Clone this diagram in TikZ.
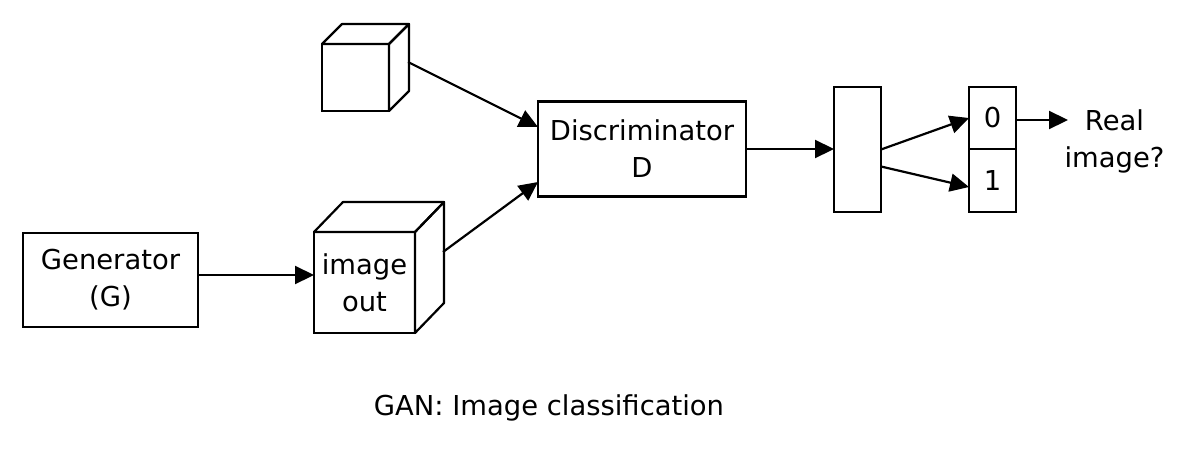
\documentclass[tikz,border=0pt]{standalone}
\usepackage{fontspec}
\setmainfont{DejaVu Sans}
\usetikzlibrary{arrows.meta,calc}
\begin{document}
\begin{tikzpicture}[x=0.5pt,y=-0.5pt,
  every node/.style={font=\fontsize{13.7}{18.5}\selectfont},
  box/.style={draw,line width=1.1pt,rectangle,align=center,inner sep=0pt,outer sep=0pt},
  face/.style={draw,line width=1.1pt,line join=round},
  arr/.style={line width=1.1pt,-{Triangle[length=9.5pt,width=9pt]}}]
\useasboundingbox (0,0) rectangle (1189,450);
% generator
\node[box,minimum width=87.5pt,minimum height=47pt] (G) at (110.5,280) {Generator\\(G)};
% small cube
\node[box,minimum width=33.5pt,minimum height=33.5pt] (C1) at (355.5,77.5) {};
\draw[face] (C1.north west) -- ++(20,-20) -- ++(67,0) -- (C1.north east) -- cycle;
\draw[face] (C1.north east) -- ++(20,-20) -- ++(0,67) -- (C1.south east) -- cycle;
\coordinate (C1o) at (408,62);
% image out cube
\node[box,minimum width=50.5pt,minimum height=50.5pt] (C2) at (364.5,282.5) {image\\out};
\draw[face] (C2.north west) -- ++(29,-30) -- ++(101,0) -- (C2.north east) -- cycle;
\draw[face] (C2.north east) -- ++(29,-30) -- ++(0,101) -- (C2.south east) -- cycle;
\coordinate (C2o) at (443,252);
% discriminator
\node[box,minimum width=104pt,minimum height=47.5pt] (D) at (642,149) {Discriminator\\D};
% rect
\node[box,minimum width=23.5pt,minimum height=62.5pt] (R) at (857.5,149.5) {};
% outputs
\node[box,minimum width=23.5pt,minimum height=31pt] (O0) at (992.5,118) {0};
\node[box,minimum width=23.5pt,minimum height=31.5pt] (O1) at (992.5,180.5) {1};
\node[align=center,inner sep=0pt] (Q) at (1114.5,141) {Real\\image?};
\coordinate (Qin) at (1068,120);
% caption
\node (cap) at (549,408) {GAN: Image classification};
% connectors
\draw[arr] ([yshift=2.5pt]G.east) -- ([yshift=2.5pt]G.east -| C2.west);
\draw[arr] (C1o) -- ([yshift=11pt]D.west);
\draw[arr] (C2o) -- ([yshift=-16.5pt]D.west);
\draw[arr] (D.east) -- (D.east -| R.west);
\draw[arr] ([yshift=0pt]R.east) -- (O0.west);
\draw[arr] ([yshift=-8.5pt]R.east) -- ([yshift=-3.25pt]O1.west);
\draw[arr] ([yshift=-1pt]O0.east) -- (Qin);
\end{tikzpicture}
\end{document}
